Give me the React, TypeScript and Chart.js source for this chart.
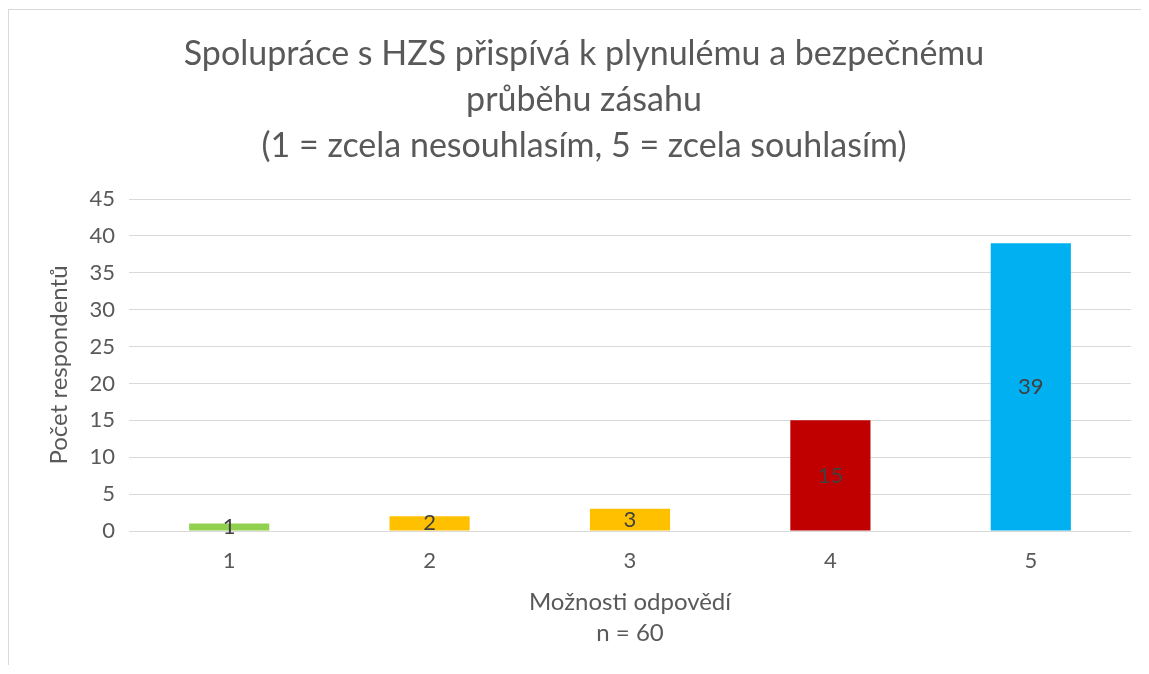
import React, { useEffect, useRef } from "react";
import { Chart, registerables } from "chart.js";

Chart.register(...registerables);

const categories = ["1", "2", "3", "4", "5"];
const values = [1, 2, 3, 15, 39];
const barColors = ["#92D050", "#FFC000", "#FFC000", "#C00000", "#00B0F0"];
const titleLines = [
  "Spolupráce s HZS přispívá k plynulému a bezpečnému",
  "průběhu zásahu",
  "(1 = zcela nesouhlasím, 5 = zcela souhlasím)",
];
const yTitle = "Počet respondentů";
const xTitleLines = ["Možnosti odpovědí", "n = 60"];

const FONT = "Lato, 'Open Sans', sans-serif";
const TEXT = "#595959";

const barLabels = {
  id: "barLabels",
  afterDatasetsDraw(chart: any) {
    const ctx = chart.ctx;
    const meta = chart.getDatasetMeta(0);
    ctx.save();
    ctx.font = `22px ${FONT}`;
    ctx.fillStyle = "#404040";
    ctx.textAlign = "center";
    ctx.textBaseline = "middle";
    meta.data.forEach((el: any, i: number) => {
      const v = chart.data.datasets[0].data[i];
      const y = (el.y + el.base) / 2;
      ctx.fillText(String(v), el.x, y);
    });
    ctx.restore();
  },
};

export default function App() {
  const ref = useRef<HTMLCanvasElement>(null);
  useEffect(() => {
    if (!ref.current) return;
    const chart = new Chart(ref.current, {
      type: "bar",
      data: {
        labels: categories,
        datasets: [
          {
            data: values,
            backgroundColor: barColors,
            barPercentage: 0.4,
            categoryPercentage: 1,
          },
        ],
      },
      options: {
        animation: false,
        responsive: false,
        maintainAspectRatio: false,
        layout: { padding: { left: 28, right: 18, top: 0, bottom: 0 } },
        plugins: {
          legend: { display: false },
          tooltip: { enabled: false },
          title: {
            display: true,
            text: titleLines,
            color: TEXT,
            font: { family: FONT, size: 34, weight: "normal", lineHeight: 1.353 },
            padding: { top: 21, bottom: 30 },
          },
        },
        scales: {
          x: {
            grid: { display: false },
            border: { display: false },
            ticks: { color: TEXT, font: { family: FONT, size: 22 }, padding: 9 },
            title: {
              display: true,
              text: xTitleLines,
              color: TEXT,
              font: { family: FONT, size: 24, lineHeight: 1.29 },
              padding: { top: 0, bottom: 16 },
            },
            afterFit(scale: any) {
              scale.height = 655 - 521;
            },
          },
          y: {
            min: 0,
            max: 45,
            ticks: { stepSize: 5, color: TEXT, font: { family: FONT, size: 22 }, padding: 14 },
            grid: { color: "#d9d9d9", lineWidth: 1, drawTicks: false },
            border: { display: false },
            title: {
              display: true,
              text: yTitle,
              color: TEXT,
              font: { family: FONT, size: 24, lineHeight: 1.2 },
              padding: { top: 8, bottom: 0 },
            },
            afterFit(scale: any) {
              scale.width = 92;
            },
          },
        },
      },
      plugins: [barLabels],
    } as any);
    return () => chart.destroy();
  }, []);
  return (
    <div
      style={{
        marginTop: 1,
        borderLeft: "1px solid #d9d9d9",
        borderTop: "1px solid #d9d9d9",
        width: 1140,
        height: 655,
      }}
    >
      <canvas ref={ref} width={1140} height={655} style={{ display: "block" }} />
    </div>
  );
}
